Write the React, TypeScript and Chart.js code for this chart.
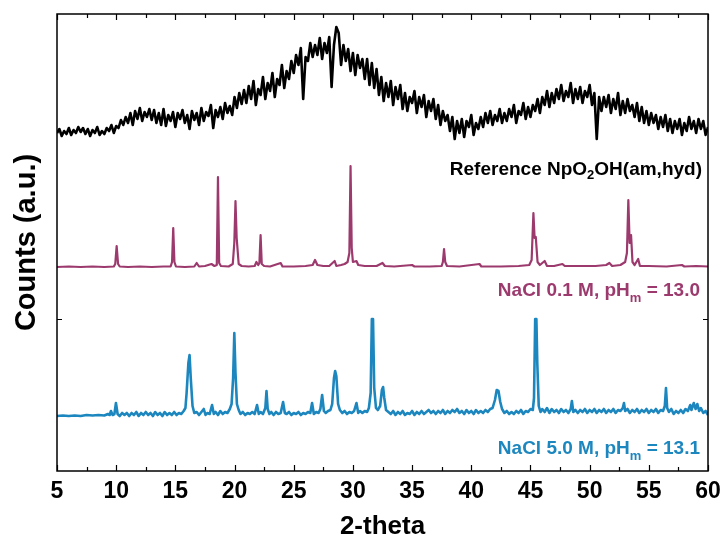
import React, { useEffect, useRef } from "react";
import { Chart, registerables } from "chart.js";

Chart.register(...registerables);

// ---------- data ----------
// Amorphous reference pattern, sampled every 0.2 deg from 5.0 to 60.0 (counts, a.u.)
const amorphousStart = 5;
const amorphousStep = 0.2;
const amorphousCounts: number[] = [
  50, 54, 47, 52, 49, 55, 48, 53, 50, 56,
  51, 55, 49, 54, 47, 53, 50, 56, 48, 52,
  49, 55, 52, 58, 50, 57, 55, 63, 58, 66,
  60, 70, 58, 72, 64, 75, 62, 71, 66, 74,
  63, 73, 60, 70, 58, 74, 57, 68, 62, 71,
  56, 70, 64, 73, 60, 68, 54, 72, 63, 70,
  58, 75, 62, 71, 67, 78, 55, 73, 66, 76,
  64, 80, 70, 77, 68, 86, 75, 90, 79, 93,
  80, 97, 84, 102, 78, 94, 88, 106, 84, 100,
  92, 110, 86, 104, 98, 118, 95, 112, 104, 122,
  110, 128, 118, 135, 84, 126, 122, 140, 126, 138,
  128, 145, 124, 140, 130, 146, 96, 138, 156, 150,
  118, 138, 122, 134, 112, 130, 108, 128, 115, 124,
  104, 124, 98, 120, 95, 114, 88, 106, 82, 100,
  86, 102, 78, 96, 84, 98, 74, 90, 72, 86,
  80, 92, 70, 86, 76, 88, 66, 82, 72, 84,
  64, 78, 58, 72, 62, 68, 52, 66, 44, 62,
  50, 64, 46, 62, 56, 68, 48, 60, 54, 66,
  56, 70, 60, 72, 58, 68, 62, 74, 60, 70,
  62, 74, 66, 78, 60, 72, 68, 80, 64, 76,
  66, 78, 72, 84, 70, 86, 78, 92, 76, 90,
  80, 94, 84, 98, 82, 92, 86, 100, 80, 94,
  84, 96, 80, 92, 86, 98, 78, 90, 44, 86,
  72, 86, 76, 88, 70, 84, 74, 90, 68, 82,
  70, 84, 72, 78, 66, 80, 62, 76, 60, 72,
  58, 70, 60, 68, 54, 66, 56, 68, 52, 64,
  50, 62, 54, 64, 48, 60, 52, 66, 54, 62,
  50, 64, 54, 62, 48, 56,
];

// NaCl 0.1 M, pHm = 13.0 : [2-theta, counts]
const nacl01Pattern: [number, number][] = [
  [5.0, 1], [6.0, 1.5], [7.0, 1], [8.0, 1.5], [9.0, 1], [9.8, 1.5],
  [9.92, 4], [10.04, 22], [10.16, 4], [10.3, 1.5], [11.0, 1], [12.0, 1.5],
  [13.0, 1], [14.0, 1.5], [14.6, 1.5], [14.72, 6], [14.82, 40], [14.92, 6],
  [15.05, 1.5], [15.8, 1], [16.6, 1.5], [16.8, 5], [17.0, 1.5], [17.5, 2],
  [18.05, 4], [18.3, 2], [18.5, 3], [18.6, 91], [18.7, 5], [18.85, 2],
  [19.5, 1.5], [19.85, 4], [19.98, 25], [20.08, 67], [20.18, 30], [20.35, 4],
  [20.6, 2], [21.2, 1.5], [21.7, 2], [21.85, 6], [22.0, 3], [22.1, 5],
  [22.2, 33], [22.3, 4], [22.5, 2], [23.0, 1.5], [23.9, 5], [24.05, 1.5],
  [25.0, 1.5], [26.0, 2], [26.6, 3], [26.8, 8], [27.0, 3], [27.5, 2],
  [28.0, 2], [28.46, 7], [28.6, 2], [29.0, 3], [29.3, 4], [29.55, 6],
  [29.7, 15], [29.8, 102], [29.9, 20], [30.0, 6], [30.3, 7], [30.45, 3],
  [31.0, 2], [32.0, 2], [32.5, 5], [32.7, 2], [33.5, 1.5], [35.0, 3],
  [35.2, 1.5], [36.5, 1.5], [37.5, 2], [37.6, 6], [37.7, 19], [37.8, 6],
  [37.95, 2], [39.0, 1.5], [40.7, 4], [40.85, 1.5], [42.5, 1.5], [44.0, 2],
  [44.9, 3], [45.1, 8], [45.25, 55], [45.35, 30], [45.45, 31], [45.6, 6],
  [45.8, 3], [46.2, 7], [46.4, 2], [47.0, 2], [47.7, 4], [47.9, 2],
  [49.0, 2], [50.5, 2], [51.4, 3], [51.67, 5], [51.9, 2], [52.6, 3],
  [53.0, 6], [53.15, 15], [53.27, 68], [53.38, 25], [53.5, 33], [53.62, 6],
  [53.8, 3], [54.1, 9], [54.25, 2], [55.0, 2], [56.5, 1.5], [57.8, 3],
  [58.0, 1.5], [59.0, 2], [60.0, 1.5],
];

// NaCl 5.0 M, pHm = 13.1 : [2-theta, counts]
const nacl50Pattern: [number, number][] = [
  [5.0, 2], [5.5, 2.5], [6.0, 2], [6.5, 2.5], [7.0, 2], [7.5, 3], [8.0, 2.5], [8.5, 3],
  [9.0, 2.5], [9.3, 4], [9.45, 3], [9.56, 7], [9.7, 3], [9.85, 4], [9.98, 15], [10.12, 4],
  [10.3, 2], [10.5, 5], [10.7, 3], [10.9, 5], [11.1, 2], [11.3, 5], [11.5, 3], [11.7, 6],
  [11.9, 2], [12.1, 5], [12.3, 3], [12.5, 6], [12.7, 3], [12.9, 5], [13.1, 2], [13.3, 6],
  [13.5, 3], [13.7, 5], [13.9, 2], [14.1, 6], [14.3, 3], [14.5, 5], [14.7, 3], [14.9, 6],
  [15.1, 3], [15.3, 5], [15.5, 4], [15.7, 7], [15.85, 10], [15.95, 25], [16.1, 55], [16.2, 63],
  [16.3, 40], [16.45, 12], [16.6, 5], [16.8, 6], [17.0, 3], [17.2, 6], [17.4, 9], [17.55, 3],
  [17.7, 5], [17.9, 4], [18.1, 13], [18.25, 4], [18.4, 6], [18.6, 3], [18.8, 7], [19.0, 4],
  [19.2, 6], [19.4, 5], [19.6, 9], [19.75, 14], [19.88, 40], [19.98, 85], [20.08, 45], [20.2, 14],
  [20.35, 8], [20.5, 4], [20.7, 6], [20.9, 3], [21.1, 5], [21.3, 4], [21.5, 6], [21.7, 4],
  [21.9, 13], [22.05, 4], [22.2, 6], [22.4, 4], [22.6, 10], [22.7, 27], [22.8, 9], [22.95, 4],
  [23.1, 6], [23.3, 3], [23.5, 6], [23.7, 4], [23.9, 5], [24.1, 16], [24.25, 5], [24.4, 4],
  [24.6, 6], [24.8, 3], [25.0, 5], [25.2, 4], [25.4, 6], [25.6, 3], [25.8, 5], [26.0, 4],
  [26.2, 6], [26.4, 5], [26.55, 15], [26.7, 4], [26.9, 6], [27.1, 5], [27.25, 9], [27.4, 23],
  [27.55, 7], [27.7, 5], [27.9, 7], [28.1, 8], [28.25, 14], [28.4, 40], [28.5, 47], [28.6, 42],
  [28.75, 14], [28.9, 8], [29.1, 5], [29.3, 7], [29.5, 4], [29.7, 6], [29.9, 5], [30.1, 7],
  [30.3, 15], [30.45, 5], [30.6, 7], [30.8, 5], [31.0, 7], [31.2, 6], [31.35, 10], [31.5, 25],
  [31.6, 99], [31.7, 99], [31.8, 30], [31.95, 10], [32.1, 8], [32.3, 12], [32.45, 28], [32.55, 31],
  [32.65, 20], [32.8, 8], [33.0, 6], [33.2, 4], [33.4, 7], [33.6, 3], [33.8, 6], [34.0, 4],
  [34.2, 7], [34.4, 3], [34.6, 5], [34.8, 4], [35.0, 7], [35.2, 3], [35.4, 6], [35.6, 4],
  [35.8, 7], [36.0, 4], [36.2, 6], [36.4, 8], [36.6, 5], [36.8, 7], [37.0, 4], [37.2, 7],
  [37.4, 5], [37.6, 8], [37.8, 4], [38.0, 7], [38.2, 5], [38.4, 8], [38.6, 6], [38.8, 9],
  [39.0, 5], [39.2, 7], [39.4, 4], [39.6, 8], [39.8, 5], [40.0, 7], [40.2, 4], [40.4, 8],
  [40.6, 5], [40.8, 7], [41.0, 5], [41.2, 8], [41.4, 6], [41.6, 9], [41.8, 10], [42.0, 18],
  [42.15, 28], [42.3, 27], [42.45, 16], [42.6, 9], [42.8, 5], [43.0, 7], [43.2, 4], [43.4, 6],
  [43.6, 4], [43.8, 7], [44.0, 5], [44.2, 8], [44.4, 4], [44.6, 7], [44.8, 6], [45.0, 9],
  [45.2, 8], [45.3, 20], [45.4, 99], [45.5, 99], [45.58, 54], [45.7, 12], [45.85, 6], [46.0, 9],
  [46.2, 6], [46.4, 10], [46.6, 5], [46.8, 9], [47.0, 6], [47.2, 8], [47.4, 5], [47.6, 9],
  [47.8, 6], [48.0, 8], [48.2, 5], [48.4, 9], [48.5, 17], [48.62, 6], [48.8, 8], [49.0, 5],
  [49.2, 8], [49.4, 6], [49.6, 9], [49.8, 5], [50.0, 8], [50.2, 6], [50.4, 9], [50.6, 5],
  [50.8, 8], [51.0, 6], [51.2, 9], [51.4, 5], [51.6, 8], [51.8, 6], [52.0, 9], [52.2, 5],
  [52.4, 8], [52.6, 7], [52.8, 10], [52.9, 15], [53.0, 7], [53.2, 9], [53.4, 5], [53.6, 8],
  [53.8, 6], [54.0, 9], [54.2, 5], [54.4, 8], [54.6, 6], [54.8, 9], [55.0, 5], [55.2, 8],
  [55.4, 6], [55.6, 9], [55.8, 5], [56.0, 8], [56.2, 7], [56.35, 12], [56.45, 30], [56.55, 10],
  [56.7, 6], [56.9, 9], [57.1, 4], [57.3, 7], [57.5, 5], [57.7, 8], [57.9, 5], [58.1, 9],
  [58.3, 7], [58.5, 13], [58.6, 8], [58.8, 15], [58.95, 9], [59.1, 14], [59.25, 7], [59.4, 10],
  [59.6, 5], [59.8, 7], [60.0, 3],
];

// vertical stacking offsets for each trace
const amorphousOffset = 288;
const nacl01Offset = 203;
const nacl50Offset = 53;

const xMajorTicks = [5, 10, 15, 20, 25, 30, 35, 40, 45, 50, 55, 60];
const yTickValues = [152];

const amorphousLabel: [string, boolean][] = [["Reference NpO", false], ["2", true], ["OH(am,hyd)", false]];
const nacl01Label: [string, boolean][] = [["NaCl 0.1 M, pH", false], ["m", true], [" = 13.0", false]];
const nacl50Label: [string, boolean][] = [["NaCl 5.0 M, pH", false], ["m", true], [" = 13.1", false]];

// ---------- styles ----------
const BLACK = "#000000";
const MAGENTA = "#9c3a6e";
const BLUE = "#1c86be";
const FONT = "'Liberation Sans', Arial, sans-serif";

const labelSpecs = [
  { parts: amorphousLabel, color: BLACK, yValue: 296, rightInset: 6 },
  { parts: nacl01Label, color: MAGENTA, yValue: 175, rightInset: 8 },
  { parts: nacl50Label, color: BLUE, yValue: 17, rightInset: 8 },
];

const framePlugin = {
  id: "frameAndLabels",
  afterDatasetsDraw(chart: any) {
    const { ctx, chartArea } = chart;
    const { left, right, top, bottom } = chartArea;
    const xs = chart.scales.x;
    const ys = chart.scales.y;
    ctx.save();
    ctx.strokeStyle = "#000";
    ctx.lineWidth = 1.5;
    ctx.strokeRect(left, top, right - left, bottom - top);

    ctx.lineWidth = 1.2;
    const drawTick = (v: number, len: number) => {
      const px = Math.round(xs.getPixelForValue(v)) + 0.5;
      ctx.beginPath();
      ctx.moveTo(px, bottom);
      ctx.lineTo(px, bottom - len);
      ctx.moveTo(px, top);
      ctx.lineTo(px, top + len);
      ctx.stroke();
    };
    xMajorTicks.forEach((v, i) => {
      drawTick(v, 6);
      if (i < xMajorTicks.length - 1) drawTick((v + xMajorTicks[i + 1]) / 2, 4);
    });
    yTickValues.forEach((v) => {
      const py = Math.round(ys.getPixelForValue(v)) + 0.5;
      ctx.beginPath();
      ctx.moveTo(left, py);
      ctx.lineTo(left + 5, py);
      ctx.moveTo(right, py);
      ctx.lineTo(right - 5, py);
      ctx.stroke();
    });

    // series labels
    labelSpecs.forEach((spec) => {
      const mainFont = `bold 19px ${FONT}`;
      const subFont = `bold 13px ${FONT}`;
      let total = 0;
      const widths = spec.parts.map(([t, sub]) => {
        ctx.font = sub ? subFont : mainFont;
        const w = ctx.measureText(t).width;
        total += w;
        return w;
      });
      let x = right - spec.rightInset - total;
      const baseY = ys.getPixelForValue(spec.yValue);
      ctx.fillStyle = spec.color;
      ctx.textBaseline = "alphabetic";
      ctx.textAlign = "left";
      spec.parts.forEach(([t, sub], i) => {
        ctx.font = sub ? subFont : mainFont;
        ctx.fillText(t, x, baseY + (sub ? (t === "m" ? 6 : 4) : 0));
        x += widths[i];
      });
    });
    ctx.restore();
  },
};

export default function App() {
  const canvasRef = useRef<HTMLCanvasElement | null>(null);

  useEffect(() => {
    const canvas = canvasRef.current;
    if (!canvas) return;

    const amorphousData = amorphousCounts.map((c, i) => ({
      x: +(amorphousStart + i * amorphousStep).toFixed(2),
      y: c + amorphousOffset,
    }));
    const nacl01Data = nacl01Pattern.map(([t, c]) => ({ x: t, y: c + nacl01Offset }));
    const nacl50Data = nacl50Pattern.map(([t, c]) => ({ x: t, y: c + nacl50Offset }));

    const chart = new Chart(canvas, {
      type: "line",
      data: {
        datasets: [
          {
            label: "Reference NpO2OH(am,hyd)",
            data: amorphousData,
            borderColor: BLACK,
            borderWidth: 2.6,
            pointRadius: 0,
            tension: 0,
            borderJoinStyle: "round",
          },
          {
            label: "NaCl 0.1 M, pHm = 13.0",
            data: nacl01Data,
            borderColor: MAGENTA,
            borderWidth: 2.2,
            pointRadius: 0,
            tension: 0,
            borderJoinStyle: "round",
          },
          {
            label: "NaCl 5.0 M, pHm = 13.1",
            data: nacl50Data,
            borderColor: BLUE,
            borderWidth: 2.6,
            pointRadius: 0,
            tension: 0,
            borderJoinStyle: "round",
          },
        ],
      },
      options: {
        animation: false,
        responsive: false,
        devicePixelRatio: 1,
        parsing: false,
        normalized: true,
        layout: { padding: { top: 14, right: 16, left: 0, bottom: 0 } },
        plugins: {
          legend: { display: false },
          tooltip: { enabled: false },
        },
        scales: {
          x: {
            type: "linear",
            min: 5,
            max: 60,
            grid: { display: false, drawTicks: false },
            border: { display: false },
            ticks: {
              stepSize: 5,
              autoSkip: false,
              maxRotation: 0,
              padding: 7,
              color: "#000",
              font: { family: FONT, size: 23, weight: "bold" },
            },
            title: {
              display: true,
              text: "2-theta",
              color: "#000",
              font: { family: FONT, size: 26, weight: "bold", lineHeight: 1 },
              padding: { top: 0, bottom: 1 },
            },
            afterFit: (scale: any) => {
              scale.height = 70;
              scale.paddingLeft = 0;
              scale.paddingRight = 0;
            },
          },
          y: {
            type: "linear",
            min: 0,
            max: 457,
            grid: { display: false, drawTicks: false },
            border: { display: false },
            ticks: { display: false },
            title: {
              display: true,
              text: "Counts (a.u.)",
              color: "#000",
              font: { family: FONT, size: 29, weight: "bold", lineHeight: 1 },
              padding: { top: 12, bottom: 0 },
            },
            afterFit: (scale: any) => {
              scale.width = 57;
            },
          },
        },
      },
      plugins: [framePlugin],
    });

    return () => chart.destroy();
  }, []);

  return (
    <div style={{ position: "absolute", left: 0, top: 0, width: 724, height: 541, background: "#fff" }}>
      <canvas ref={canvasRef} width={724} height={541} style={{ display: "block" }} />
    </div>
  );
}
